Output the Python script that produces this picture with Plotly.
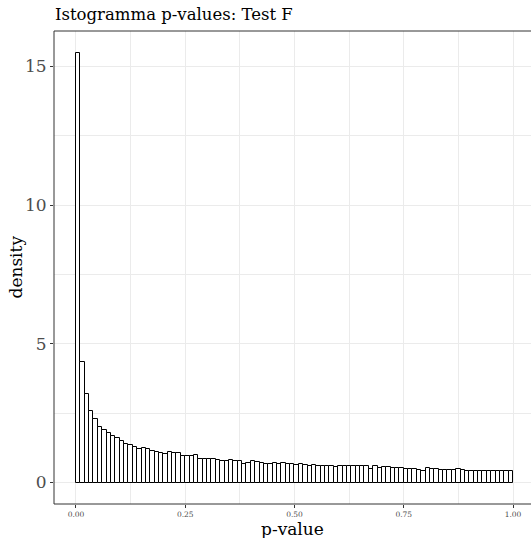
import numpy as np
import plotly.graph_objects as go

# Histogram of F-test p-values: 100 bins of width 0.01 on [0, 1], density scale
bin_width = 0.01
bin_start = 0.0
densities = [
    15.5, 4.35, 3.2, 2.58, 2.29, 1.99, 1.88, 1.77, 1.68, 1.59,
    1.48, 1.37, 1.36, 1.28, 1.22, 1.23, 1.19, 1.13, 1.10, 1.08,
    1.02, 1.10, 1.08, 1.05, 0.97, 0.97, 0.95, 0.98, 0.85, 0.85,
    0.84, 0.83, 0.82, 0.79, 0.77, 0.82, 0.78, 0.76, 0.65, 0.72,
    0.77, 0.73, 0.72, 0.66, 0.66, 0.70, 0.65, 0.70, 0.68, 0.66,
    0.62, 0.67, 0.62, 0.61, 0.62, 0.59, 0.61, 0.58, 0.61, 0.57,
    0.60, 0.58, 0.58, 0.58, 0.58, 0.58, 0.59, 0.50, 0.58, 0.53,
    0.57, 0.57, 0.51, 0.52, 0.53, 0.49, 0.48, 0.48, 0.45, 0.43,
    0.52, 0.48, 0.47, 0.45, 0.44, 0.44, 0.46, 0.47, 0.46, 0.40,
    0.42, 0.40, 0.42, 0.41, 0.40, 0.42, 0.42, 0.41, 0.42, 0.42,
]
x_ticks = [0.0, 0.25, 0.5, 0.75, 1.0]
x_tick_labels = ["0.00", "0.25", "0.50", "0.75", "1.00"]
y_ticks = [0, 5, 10, 15]
y_tick_labels = ["0", "5", "10", "15"]

centers = bin_start + bin_width * (np.arange(len(densities)) + 0.5)

FONT = "DejaVu Serif"
GRID = "#EBEBEB"
BORDER = "#333333"
TICKTXT = "#4D4D4D"

fig = go.Figure(
    go.Bar(
        x=centers,
        y=densities,
        width=bin_width,
        marker=dict(color="white", line=dict(color="black", width=1)),
        hoverinfo="x+y",
    )
)

fig.update_layout(
    width=531,
    height=538,
    margin=dict(l=54, r=0, t=31, b=34),
    paper_bgcolor="white",
    plot_bgcolor="white",
    showlegend=False,
    bargap=0,
    font=dict(family=FONT, color="black"),
    title=dict(
        text="Istogramma p-values: Test F",
        xref="container", yref="container",
        x=55 / 531, xanchor="left",
        y=1 - 14 / 538, yanchor="middle",
        font=dict(family=FONT, size=16.5, color="black"),
    ),
    xaxis=dict(
        range=[-0.0503, 1.0412],
        tickvals=x_ticks,
        ticktext=x_tick_labels,
        tickfont=dict(family=FONT, size=7.5, color=TICKTXT),
        ticks="outside", ticklen=3, tickcolor=BORDER, tickwidth=1,
        showgrid=True, gridcolor=GRID, gridwidth=1,
        minor=dict(dtick=0.125, tick0=0, showgrid=True, gridcolor=GRID, gridwidth=0.6, ticks=""),
        zeroline=False, showline=False,
    ),
    yaxis=dict(
        range=[-0.775, 16.275],
        tickvals=y_ticks,
        ticktext=y_tick_labels,
        tickfont=dict(family=FONT, size=17, color=TICKTXT),
        ticks="outside", ticklen=3, tickcolor=BORDER, tickwidth=1,
        showgrid=True, gridcolor=GRID, gridwidth=1,
        minor=dict(dtick=2.5, tick0=0, showgrid=True, gridcolor=GRID, gridwidth=0.6, ticks=""),
        zeroline=False, showline=False,
    ),
    shapes=[
        dict(type="line", xref="paper", yref="paper", x0=0, x1=0, y0=0, y1=1,
             line=dict(color=BORDER, width=1)),
        dict(type="line", xref="paper", yref="paper", x0=0, x1=1, y0=1, y1=1,
             line=dict(color=BORDER, width=1)),
        dict(type="line", xref="paper", yref="paper", x0=0, x1=1, y0=0, y1=0,
             line=dict(color=BORDER, width=1)),
    ],
    annotations=[
        dict(text="p-value", xref="paper", yref="paper", x=0.5, y=0,
             xanchor="center", yanchor="middle", yshift=-25, showarrow=False,
             font=dict(family=FONT, size=17, color="black")),
        dict(text="density", xref="paper", yref="paper", x=0, y=0.5,
             xanchor="center", yanchor="middle", xshift=-39, textangle=-90,
             showarrow=False, font=dict(family=FONT, size=17, color="black")),
    ],
)

fig.write_html("out.html")
